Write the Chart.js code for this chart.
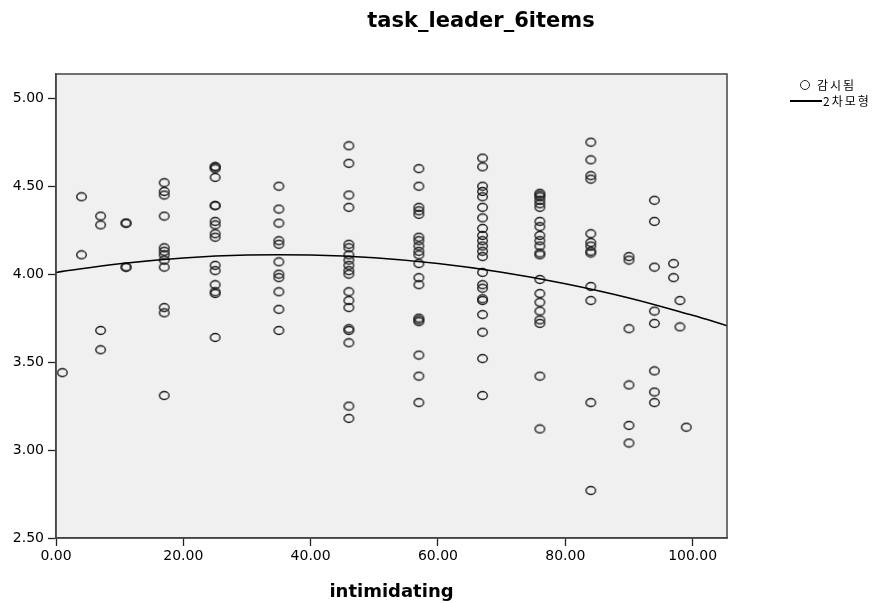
<!DOCTYPE html>
<html>
<head>
<meta charset="utf-8">
<script src="https://cdn.jsdelivr.net/npm/chart.js"></script>
<style>
    body { margin: 0; background: #fff; }
    #wrap { position: relative; width: 885px; height: 603px; }
    #chartTitle {
        position: absolute; left: 481px; top: 8px; transform: translateX(-50%);
        font: bold 21px "DejaVu Sans", sans-serif; line-height: 24px; color: #000; white-space: nowrap;
    }
    .legend-text {
        position: absolute; font: 12px "Noto Sans CJK KR", sans-serif; line-height: 16px;
        color: #000; letter-spacing: 2px; white-space: nowrap;
    }
</style>
</head>
<body>
<div id="wrap">
    <canvas id="scatterChart" width="885" height="603"></canvas>
    <div id="chartTitle">task_leader_6items</div>
    <div style="position:absolute; left:800px; top:80px; width:8px; height:8px; border:1.4px solid #222; border-radius:50%;"></div>
    <div class="legend-text" style="left:817px; top:77px;">감시됨</div>
    <div style="position:absolute; left:790px; top:100px; width:32px; height:1.5px; background:#000;"></div>
    <div class="legend-text" style="left:823px; top:93px;">2차모형</div>
</div>
<script>
// x positions of the observed columns (intimidating)
const columnX = [1, 4, 7, 11, 17, 25, 35, 46, 57, 67, 76, 84, 90, 94, 97, 98, 99];

// observed task_leader_6items values in each column
const columnY = [
    [3.44],
    [4.44, 4.11],
    [4.33, 4.28, 3.68, 3.57],
    [4.29, 4.29, 4.04, 4.04],
    [4.52, 4.47, 4.45, 4.33, 4.15, 4.13, 4.11, 4.08, 4.04, 3.81, 3.78, 3.31],
    [4.61, 4.61, 4.60, 4.55, 4.39, 4.39, 4.30, 4.28, 4.23, 4.21, 4.05, 4.02, 3.94, 3.90, 3.89, 3.64],
    [4.50, 4.37, 4.29, 4.19, 4.17, 4.07, 4.00, 3.98, 3.90, 3.80, 3.68],
    [4.73, 4.63, 4.45, 4.38, 4.17, 4.15, 4.11, 4.08, 4.05, 4.02, 4.00, 3.90, 3.85, 3.81, 3.69, 3.68, 3.61, 3.25, 3.18],
    [4.60, 4.50, 4.38, 4.36, 4.34, 4.21, 4.19, 4.16, 4.13, 4.11, 4.06, 3.98, 3.94, 3.75, 3.74, 3.73, 3.54, 3.42, 3.27],
    [4.66, 4.61, 4.50, 4.47, 4.44, 4.38, 4.32, 4.26, 4.22, 4.19, 4.16, 4.13, 4.10, 4.01, 3.94, 3.92, 3.86, 3.85, 3.77, 3.67, 3.52, 3.31],
    [4.46, 4.45, 4.44, 4.42, 4.40, 4.38, 4.30, 4.27, 4.22, 4.19, 4.16, 4.12, 4.11, 3.97, 3.89, 3.84, 3.79, 3.74, 3.72, 3.42, 3.12],
    [4.75, 4.65, 4.56, 4.54, 4.23, 4.18, 4.16, 4.13, 4.12, 3.93, 3.85, 3.27, 2.77],
    [4.10, 4.08, 3.69, 3.37, 3.14, 3.04],
    [4.42, 4.30, 4.04, 3.79, 3.72, 3.45, 3.33, 3.27],
    [4.06, 3.98],
    [3.85, 3.70],
    [3.13]
];

// quadratic fit curve
const fitX = [0, 10, 20, 30, 40, 50, 60, 70, 80, 90, 100, 105.4];
const fitY = [4.010, 4.059, 4.092, 4.109, 4.109, 4.093, 4.060, 4.011, 3.946, 3.865, 3.766, 3.707];

// tick labels
const xTicks = [0, 20, 40, 60, 80, 100];
const yTicks = [2.5, 3.0, 3.5, 4.0, 4.5, 5.0];

document.addEventListener('DOMContentLoaded', function() {
    const points = [];
    columnX.forEach((x, i) => {
        columnY[i].forEach(y => points.push({ x: x, y: y }));
    });
    const curve = fitX.map((x, i) => ({ x: x, y: fitY[i] }));

    // slightly wide hollow marker like the original
    const marker = document.createElement('canvas');
    marker.width = 13;
    marker.height = 11;
    const mctx = marker.getContext('2d');
    mctx.strokeStyle = '#1e1e1e';
    mctx.lineWidth = 1.4;
    mctx.beginPath();
    mctx.ellipse(6.5, 5.5, 4.8, 4.0, 0, 0, Math.PI * 2);
    mctx.stroke();

    // grey plot background and frame
    const plotFrame = {
        id: 'plotFrame',
        beforeDraw(chart) {
            const a = chart.chartArea;
            const ctx = chart.ctx;
            ctx.save();
            ctx.fillStyle = '#f0f0f0';
            ctx.fillRect(a.left, a.top, a.right - a.left, a.bottom - a.top);
            ctx.restore();
        },
        afterDraw(chart) {
            const a = chart.chartArea;
            const ctx = chart.ctx;
            ctx.save();
            ctx.strokeStyle = '#444';
            ctx.lineWidth = 1.5;
            ctx.strokeRect(a.left, a.top, a.right - a.left, a.bottom - a.top);
            ctx.restore();
        }
    };

    const tickFont = { family: 'DejaVu Sans', size: 14 };

    new Chart(document.getElementById('scatterChart'), {
        type: 'scatter',
        data: {
            datasets: [{
                label: '감시됨',
                data: points,
                pointStyle: marker,
                pointRadius: 5,
                order: 1
            }, {
                type: 'line',
                label: '2차모형',
                data: curve,
                borderColor: '#000',
                borderWidth: 1.5,
                pointRadius: 0,
                tension: 0.4,
                fill: false,
                order: 0
            }]
        },
        options: {
            responsive: false,
            animation: false,
            layout: { padding: { left: 0, top: 74, right: 158, bottom: 0 } },
            plugins: {
                legend: { display: false },
                tooltip: { enabled: false }
            },
            scales: {
                x: {
                    type: 'linear',
                    min: 0,
                    max: 105.4,
                    afterBuildTicks: scale => { scale.ticks = xTicks.map(v => ({ value: v })); },
                    afterFit: scale => { scale.height = 65; },
                    ticks: {
                        font: tickFont,
                        color: '#000',
                        padding: 2,
                        maxRotation: 0,
                        callback: v => v.toFixed(2)
                    },
                    grid: { drawOnChartArea: false, tickLength: 8, tickColor: '#222', tickWidth: 1.3 },
                    border: { color: '#444', width: 1.5 },
                    title: {
                        display: true,
                        text: 'intimidating',
                        color: '#000',
                        font: { family: 'DejaVu Sans', size: 18, weight: 'bold' },
                        padding: { top: 0, bottom: 0 }
                    }
                },
                y: {
                    type: 'linear',
                    min: 2.5,
                    max: 5.138,
                    afterBuildTicks: scale => { scale.ticks = yTicks.map(v => ({ value: v })); },
                    afterFit: scale => { scale.width = 56; },
                    ticks: {
                        font: tickFont,
                        color: '#000',
                        padding: 4,
                        callback: v => v.toFixed(2)
                    },
                    grid: { drawOnChartArea: false, tickLength: 8, tickColor: '#222', tickWidth: 1.3 },
                    border: { color: '#444', width: 1.5 }
                }
            }
        },
        plugins: [plotFrame]
    });
});
</script>
</body>
</html>
